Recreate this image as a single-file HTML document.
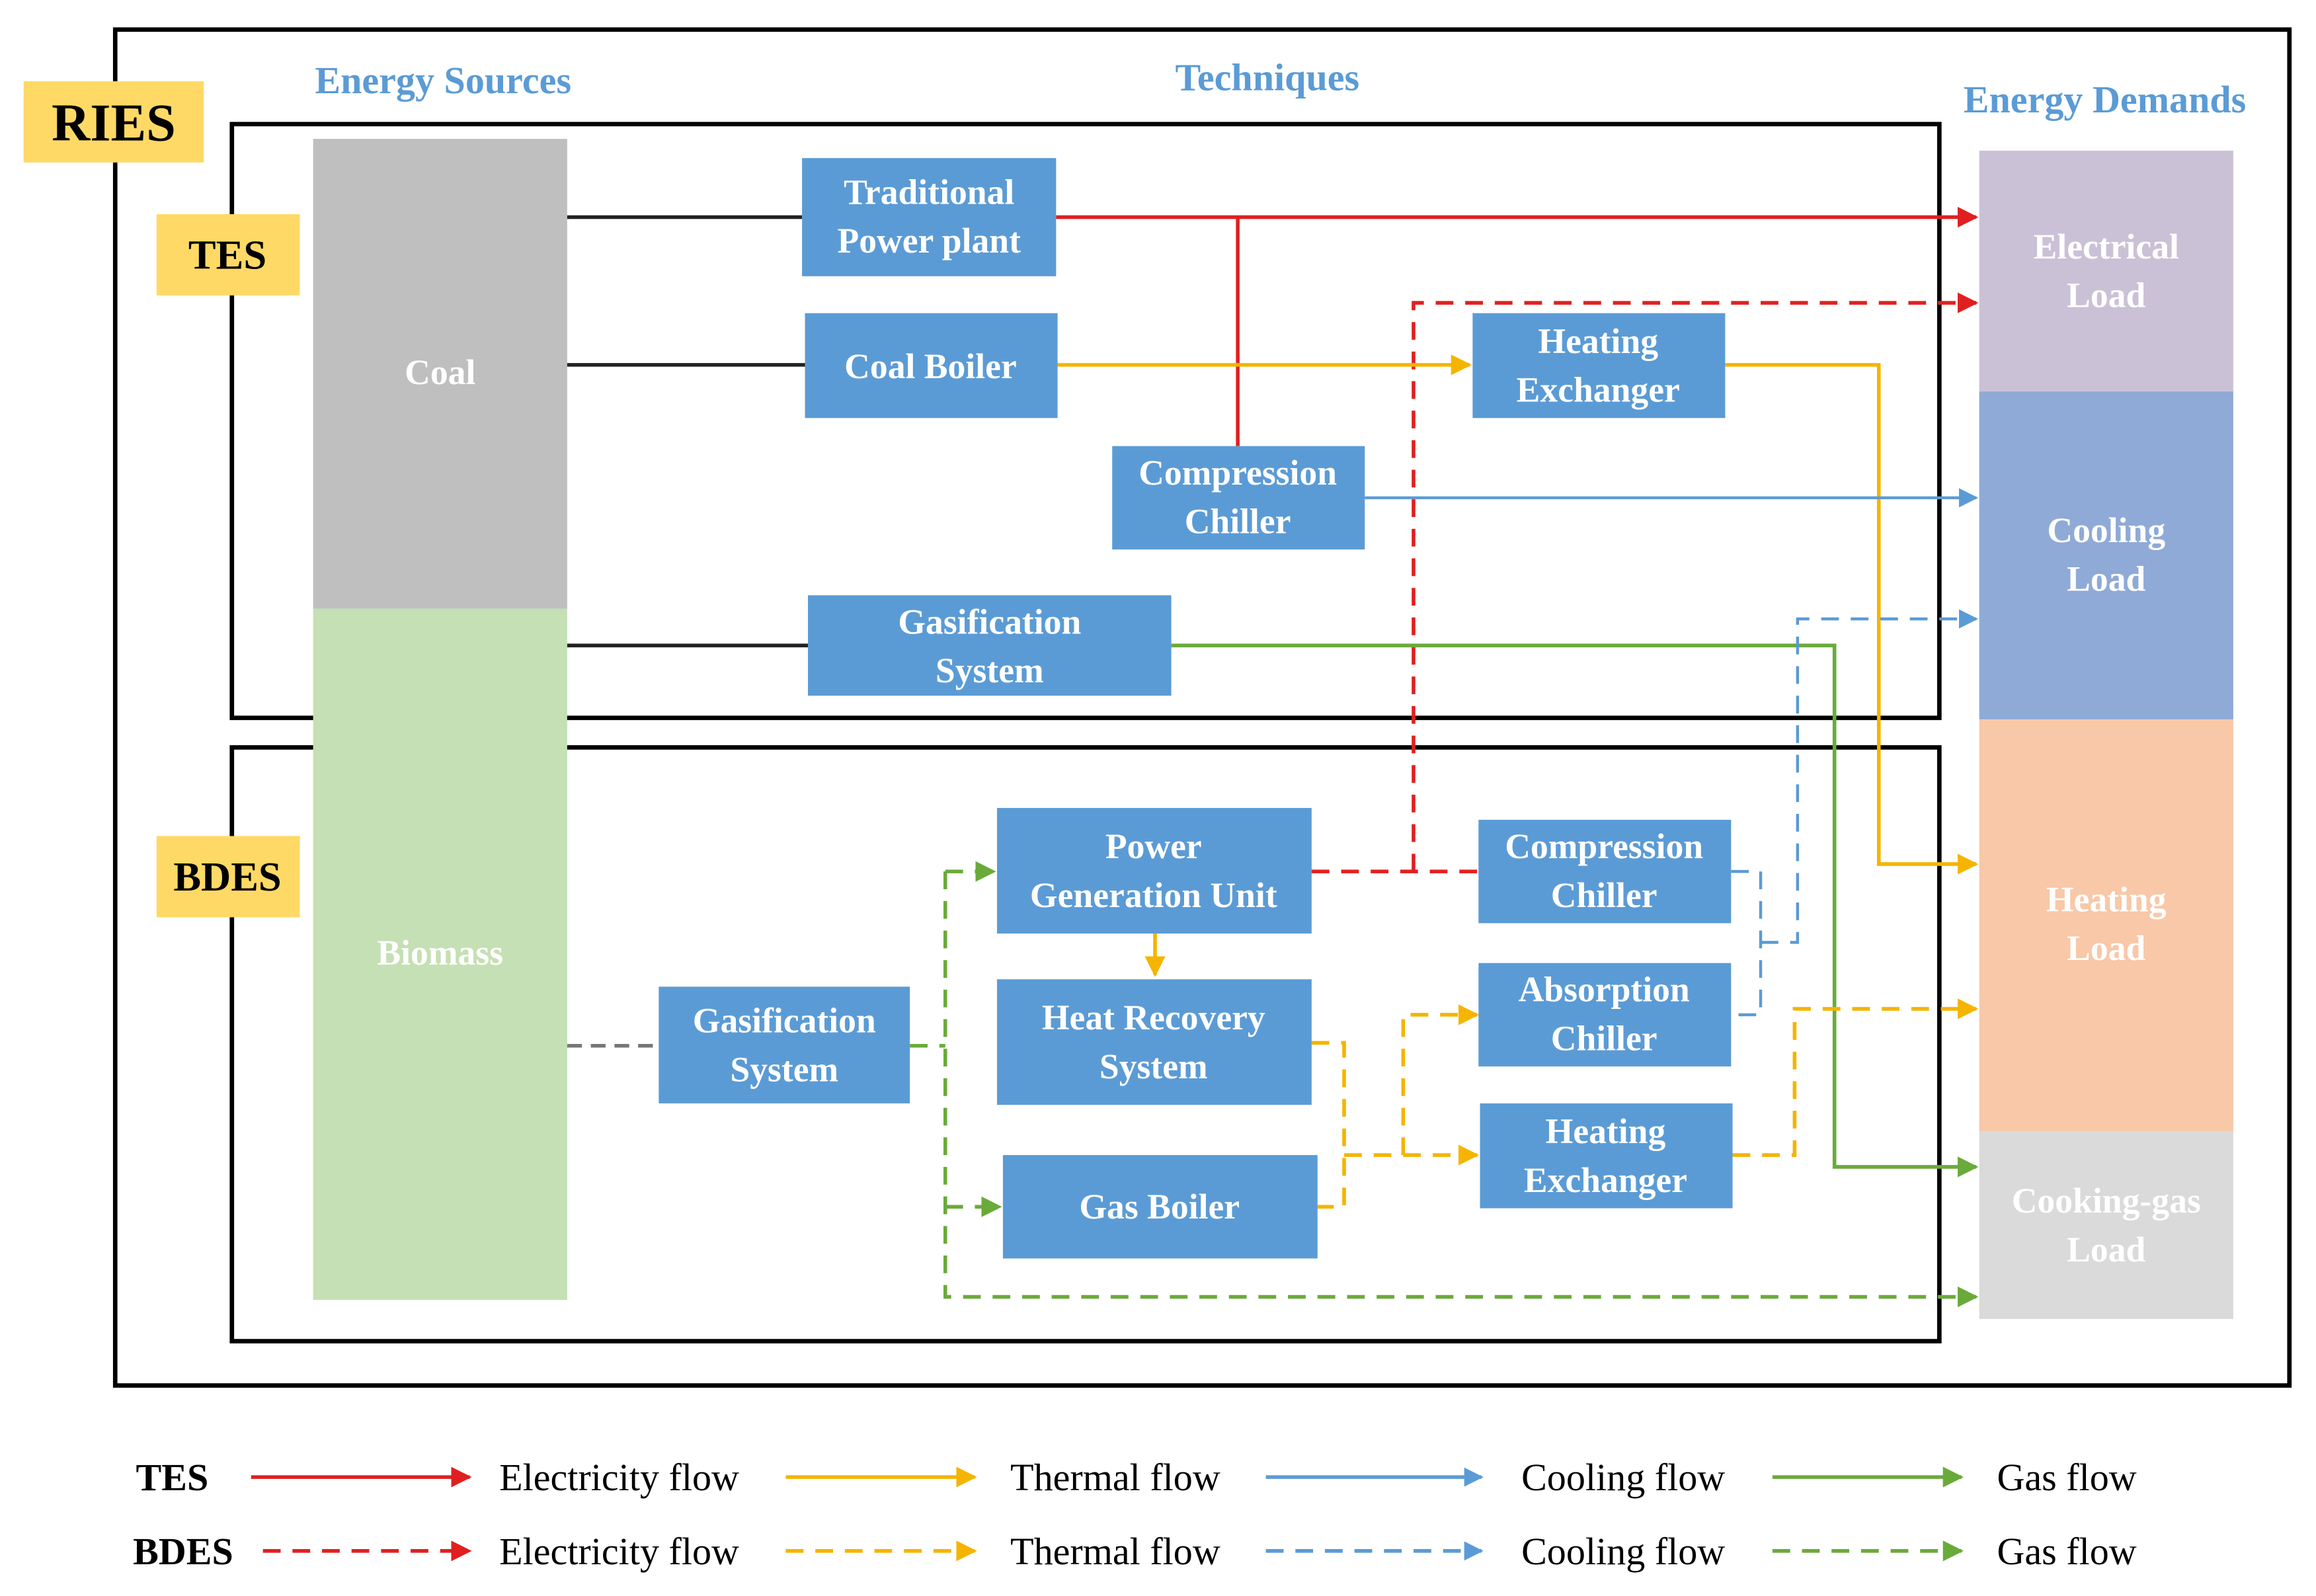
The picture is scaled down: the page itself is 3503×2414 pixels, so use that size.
<!DOCTYPE html>
<html><head><style>html,body{margin:0;padding:0;background:#fff}svg{display:block}svg text{font-family:"Liberation Serif","DejaVu Serif",serif}</style></head><body>
<svg width="3503" height="2414" viewBox="0 0 1568 1080.5" xmlns="http://www.w3.org/2000/svg">
<defs>
<marker id="ar" viewBox="0 0 10 10" refX="9" refY="5" markerWidth="14" markerHeight="14" markerUnits="userSpaceOnUse" orient="auto"><path d="M0,0L10,5L0,10z" fill="#e02020"/></marker>
<marker id="ay" viewBox="0 0 10 10" refX="9" refY="5" markerWidth="14" markerHeight="14" markerUnits="userSpaceOnUse" orient="auto"><path d="M0,0L10,5L0,10z" fill="#f5b400"/></marker>
<marker id="ab" viewBox="0 0 10 10" refX="9" refY="5" markerWidth="13" markerHeight="13" markerUnits="userSpaceOnUse" orient="auto"><path d="M0,0L10,5L0,10z" fill="#5b9bd5"/></marker>
<marker id="ag" viewBox="0 0 10 10" refX="9" refY="5" markerWidth="14" markerHeight="14" markerUnits="userSpaceOnUse" orient="auto"><path d="M0,0L10,5L0,10z" fill="#6aaa3a"/></marker>
</defs>
<rect x="78" y="20" width="1472" height="918" fill="none" stroke="#000" stroke-width="3"/>
<rect x="157" y="84" width="1156" height="402" fill="none" stroke="#000" stroke-width="3"/>
<rect x="157" y="506" width="1156" height="402" fill="none" stroke="#000" stroke-width="3"/>
<rect x="16" y="55" width="122" height="55" fill="#ffd966"/>
<text x="77" y="95" text-anchor="middle" font-size="36" font-weight="bold">RIES</text>
<rect x="106" y="145" width="97" height="55" fill="#ffd966"/>
<text x="154" y="182" text-anchor="middle" font-size="28" font-weight="bold">TES</text>
<rect x="106" y="566" width="97" height="55" fill="#ffd966"/>
<text x="154" y="603" text-anchor="middle" font-size="28" font-weight="bold">BDES</text>
<g fill="#5b9bd5" font-size="26" font-weight="bold" text-anchor="middle">
<text x="300" y="63">Energy Sources</text><text x="858" y="61">Techniques</text><text x="1425" y="76">Energy Demands</text></g>
<rect x="212" y="94" width="172" height="318" fill="#bfbfbf"/>
<rect x="212" y="412" width="172" height="468" fill="#c5e0b4"/>
<rect x="1340" y="102" width="172" height="163" fill="#cbc1d6"/>
<rect x="1340" y="265" width="172" height="222" fill="#8faad6"/>
<rect x="1340" y="487" width="172" height="279" fill="#f8c8a8"/>
<rect x="1340" y="766" width="172" height="127" fill="#dadada"/>
<g fill="#fff" font-size="24" font-weight="bold" text-anchor="middle">
<text x="298" y="260">Coal</text><text x="298" y="653">Biomass</text>
<text x="1426" y="175">Electrical</text><text x="1426" y="208">Load</text>
<text x="1426" y="367">Cooling</text><text x="1426" y="400">Load</text>
<text x="1426" y="617">Heating</text><text x="1426" y="650">Load</text>
<text x="1426" y="821">Cooking-gas</text><text x="1426" y="854">Load</text>
</g>
<g fill="none" stroke-width="2.5">
<path d="M384 147H543M384 247H545M384 437H547" stroke="#222"/>
<path d="M384 708H446" stroke="#777" stroke-dasharray="10 6"/>
<path d="M715 147H1338" stroke="#e02020" marker-end="url(#ar)"/>
<path d="M838 147V302" stroke="#e02020"/>
<path d="M888 590H1001M957 590V205H1338" stroke="#e02020" stroke-dasharray="12 8" marker-end="url(#ar)"/>
<path d="M716 247H995" stroke="#f5b400" marker-end="url(#ay)"/>
<path d="M1168 247H1272V585H1338" stroke="#f5b400" marker-end="url(#ay)"/>
<path d="M924 337H1338" stroke="#5b9bd5" stroke-width="2" marker-end="url(#ab)"/>
<path d="M793 437H1242V790H1338" stroke="#6aaa3a" marker-end="url(#ag)"/>
<path d="M1172 590H1192V687H1172M1192 638H1217V419H1338" stroke="#5b9bd5" stroke-width="2" stroke-dasharray="12 8" marker-end="url(#ab)"/>
<path d="M782 632V660" stroke="#f5b400" marker-end="url(#ay)"/>
<path d="M888 706H910V817H892M910 782H1000" stroke="#f5b400" stroke-dasharray="12 8" marker-end="url(#ay)"/>
<path d="M950 782V687H1000" stroke="#f5b400" stroke-dasharray="12 8" marker-end="url(#ay)"/>
<path d="M1173 782H1215V683H1338" stroke="#f5b400" stroke-dasharray="12 8" marker-end="url(#ay)"/>
<path d="M616 708H640M640 590V878H1338" stroke="#6aaa3a" stroke-dasharray="12 8" marker-end="url(#ag)"/>
<path d="M640 590H673" stroke="#6aaa3a" stroke-dasharray="12 8" marker-end="url(#ag)"/>
<path d="M640 817H677" stroke="#6aaa3a" stroke-dasharray="12 8" marker-end="url(#ag)"/>
</g>
<g fill="#5b9bd5">
<rect x="543" y="107" width="172" height="80"/><rect x="545" y="212" width="171" height="71"/>
<rect x="997" y="212" width="171" height="71"/><rect x="753" y="302" width="171" height="70"/>
<rect x="547" y="403" width="246" height="68"/><rect x="675" y="547" width="213" height="85"/>
<rect x="1001" y="555" width="171" height="70"/><rect x="675" y="663" width="213" height="85"/>
<rect x="1001" y="652" width="171" height="70"/><rect x="446" y="668" width="170" height="79"/>
<rect x="1002" y="747" width="171" height="71"/><rect x="679" y="782" width="213" height="70"/>
</g>
<g fill="#fff" font-size="24" font-weight="bold" text-anchor="middle">
<text x="629" y="138">Traditional</text><text x="629" y="171">Power plant</text>
<text x="630" y="256">Coal Boiler</text>
<text x="1082" y="239">Heating</text><text x="1082" y="272">Exchanger</text>
<text x="838" y="328">Compression</text><text x="838" y="361">Chiller</text>
<text x="670" y="429">Gasification</text><text x="670" y="462">System</text>
<text x="781" y="581">Power</text><text x="781" y="614">Generation Unit</text>
<text x="1086" y="581">Compression</text><text x="1086" y="614">Chiller</text>
<text x="781" y="697">Heat Recovery</text><text x="781" y="730">System</text>
<text x="1086" y="678">Absorption</text><text x="1086" y="711">Chiller</text>
<text x="531" y="699">Gasification</text><text x="531" y="732">System</text>
<text x="1087" y="774">Heating</text><text x="1087" y="807">Exchanger</text>
<text x="785" y="825">Gas Boiler</text>
</g>
<g font-size="26">
<text x="92" y="1009" font-weight="bold">TES</text><text x="90" y="1059" font-weight="bold">BDES</text>
<text x="338" y="1009">Electricity flow</text><text x="684" y="1009">Thermal flow</text><text x="1030" y="1009">Cooling flow</text><text x="1352" y="1009">Gas flow</text>
<text x="338" y="1059">Electricity flow</text><text x="684" y="1059">Thermal flow</text><text x="1030" y="1059">Cooling flow</text><text x="1352" y="1059">Gas flow</text>
</g>
<g fill="none" stroke-width="2.5">
<path d="M170 1000H318" stroke="#e02020" marker-end="url(#ar)"/>
<path d="M532 1000H660" stroke="#f5b400" marker-end="url(#ay)"/>
<path d="M857 1000H1003" stroke="#5b9bd5" marker-end="url(#ab)"/>
<path d="M1200 1000H1328" stroke="#6aaa3a" marker-end="url(#ag)"/>
<path d="M178 1050H318" stroke="#e02020" stroke-dasharray="12 8" marker-end="url(#ar)"/>
<path d="M532 1050H660" stroke="#f5b400" stroke-dasharray="12 8" marker-end="url(#ay)"/>
<path d="M857 1050H1003" stroke="#5b9bd5" stroke-dasharray="12 8" marker-end="url(#ab)"/>
<path d="M1200 1050H1328" stroke="#6aaa3a" stroke-dasharray="12 8" marker-end="url(#ag)"/>
</g>
</svg>
</body></html>
